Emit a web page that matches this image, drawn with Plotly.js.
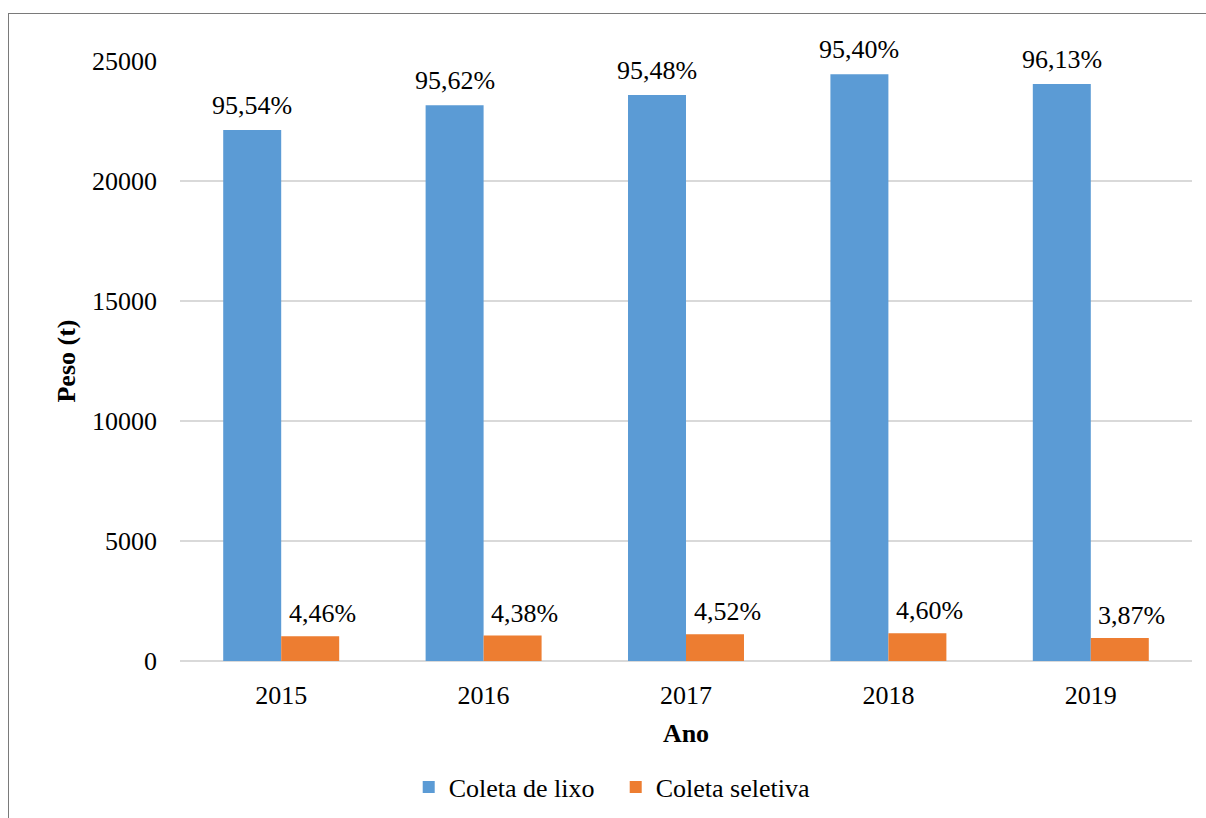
<!DOCTYPE html>
<html>
<head>
<meta charset="utf-8">
<script src="https://cdn.plot.ly/plotly-3.0.1.min.js"></script>
<style>
  html, body { margin: 0; padding: 0; background: #fff; }
  #chart { width: 1206px; height: 818px; }
  #frame { position: absolute; left: 8px; top: 13px; width: 1400px; height: 1000px;
           border: 1.5px solid #7a7a7a; pointer-events: none; }
</style>
</head>
<body>
<div id="chart"></div>
<div id="frame"></div>
<script>
const years = ['2015', '2016', '2017', '2018', '2019'];
const coletaLixo = [22120, 23160, 23580, 24450, 24040];
const coletaSeletiva = [1030, 1060, 1110, 1160, 960];
const lixoLabels = ['95,54%', '95,62%', '95,48%', '95,40%', '96,13%'];
const seletivaLabels = ['4,46%', '4,38%', '4,52%', '4,60%', '3,87%'];

const FONT = '"Liberation Serif", "Times New Roman", serif';

const traces = [
  { type: 'bar', name: 'Coleta de lixo', x: years, y: coletaLixo,
    marker: { color: '#5b9bd5' }, hoverinfo: 'x+y' },
  { type: 'bar', name: 'Coleta seletiva', x: years, y: coletaSeletiva,
    marker: { color: '#ed7d31' }, hoverinfo: 'x+y' }
];

const annotations = [];
years.forEach((yr, i) => {
  annotations.push({ x: i, y: coletaLixo[i], text: lixoLabels[i], showarrow: false,
    xanchor: 'center', yanchor: 'bottom', xshift: -29, yshift: 8,
    font: { family: FONT, size: 26, color: '#000' } });
  annotations.push({ x: i, y: coletaSeletiva[i], text: seletivaLabels[i], showarrow: false,
    xanchor: 'center', yanchor: 'bottom', xshift: 41, yshift: 6,
    font: { family: FONT, size: 26, color: '#000' } });
});

const layout = {
  width: 1206, height: 818,
  margin: { l: 180, r: 14, t: 61, b: 157, autoexpand: false },
  paper_bgcolor: '#fff', plot_bgcolor: '#fff',
  font: { family: FONT, size: 26, color: '#000' },
  barmode: 'group', bargap: 0.427, bargroupgap: 0,
  showlegend: true,
  legend: { orientation: 'h', x: 0.226, xanchor: 'left', y: -0.21, yanchor: 'middle',
            entrywidth: 162, entrywidthmode: 'pixels',
            font: { family: FONT, size: 26, color: '#000' }, itemwidth: 30, traceorder: 'normal' },
  xaxis: {
    type: 'category', showgrid: false, showline: false, zeroline: false, automargin: false,
    ticks: '', ticklabelstandoff: 16, tickfont: { family: FONT, size: 26 },
    title: { text: '<b>Ano</b>', font: { family: FONT, size: 26 }, standoff: 14 }
  },
  yaxis: {
    range: [0, 25000], dtick: 5000, tickformat: 'd', automargin: false,
    showgrid: true, gridcolor: '#d9d9d9', gridwidth: 1.5,
    zeroline: true, zerolinecolor: '#d9d9d9', zerolinewidth: 2,
    showline: false, ticks: '', ticklabelstandoff: 22,
    tickfont: { family: FONT, size: 26 },
    title: { text: '<b>Peso (t)</b>', font: { family: FONT, size: 26 }, standoff: 8 }
  },
  annotations: annotations
};

Plotly.newPlot('chart', traces, layout, { displayModeBar: false, staticPlot: true });
</script>
</body>
</html>
